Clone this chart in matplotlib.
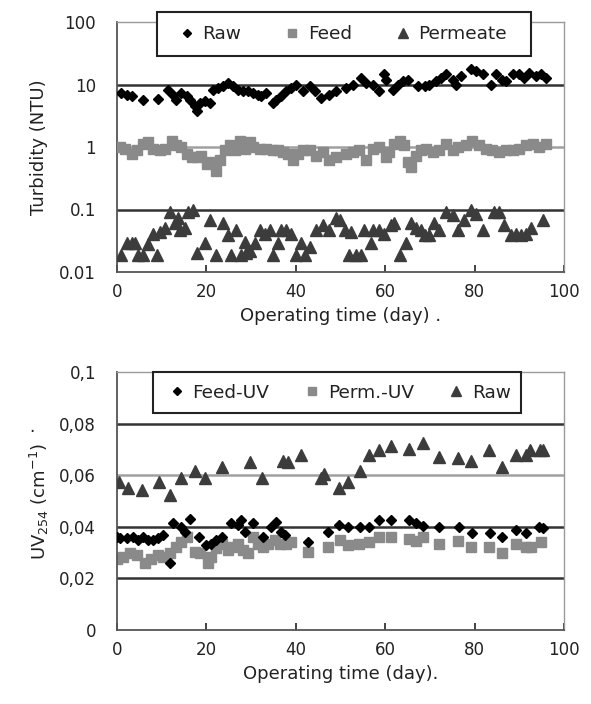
import matplotlib
matplotlib.use("Agg")
import matplotlib.pyplot as plt
from matplotlib.ticker import FixedLocator, FixedFormatter, NullLocator
from matplotlib.patches import Rectangle

# ---- Top panel: turbidity ----
raw_day = [1.0, 2.2, 3.3, 5.9, 9.2, 11.5, 12.6, 13.3, 14.4, 15.6, 16.3, 17.4, 17.8, 18.5, 19.6, 20.8,
           21.5, 22.6, 23.7, 24.8, 26.0, 27.1, 28.2, 29.3, 30.4, 31.5, 32.3, 33.4, 34.9, 35.6, 36.8,
           37.9, 39.0, 40.1, 41.6, 43.1, 44.2, 45.7, 47.5, 49.0, 51.3, 52.7, 54.6, 55.7, 57.2, 58.7,
           59.8, 60.2, 61.7, 62.8, 63.9, 65.0, 67.3, 68.8, 69.9, 71.4, 72.5, 73.6, 75.1, 75.8, 76.9,
           79.2, 80.3, 81.8, 83.6, 84.8, 86.2, 87.0, 88.5, 90.0, 91.1, 92.2, 93.7, 94.8, 95.9]
raw_val = [7.3, 6.9, 6.5, 5.6, 5.9, 8.3, 6.9, 5.7, 7.3, 6.5, 5.7, 4.5, 3.7, 5.1, 5.4, 5.1,
           8.3, 8.8, 9.4, 10.6, 9.4, 8.3, 7.8, 7.8, 7.3, 6.9, 6.5, 7.3, 5.1, 5.7, 6.5,
           7.8, 8.8, 10.0, 7.8, 9.4, 7.8, 6.1, 6.9, 7.8, 8.8, 10.0, 12.8, 10.6, 10.0, 7.8,
           14.5, 12.0, 8.3, 10.0, 11.3, 12.0, 9.4, 9.4, 10.0, 11.3, 12.8, 14.5, 12.0, 10.0, 13.6,
           17.5, 16.4, 14.5, 10.0, 14.5, 12.0, 11.3, 14.5, 14.5, 12.8, 15.3, 13.6, 14.5, 12.8]

feed_day = [0.7, 1.8, 3.3, 4.4, 5.9, 7.0, 8.1, 9.6, 10.7, 12.2, 13.3, 14.4, 15.6, 16.7, 17.8, 18.9,
            20.1, 21.1, 22.2, 23.0, 24.1, 25.2, 26.3, 27.5, 28.6, 29.7, 30.4, 31.9, 33.4, 34.9, 36.0,
            37.1, 38.2, 39.4, 40.5, 41.6, 43.1, 44.6, 46.1, 47.5, 49.0, 51.3, 52.7, 54.2, 55.7, 57.2,
            58.7, 60.2, 60.9, 62.0, 63.2, 64.3, 65.0, 65.8, 66.9, 68.0, 69.2, 70.7, 72.1, 73.6, 75.1,
            76.2, 78.1, 79.5, 81.0, 82.5, 84.0, 85.5, 87.0, 88.5, 90.0, 91.5, 93.0, 94.4, 95.9]
feed_val = [1.0, 0.93, 0.78, 0.88, 1.12, 1.2, 0.93, 0.88, 0.93, 1.27, 1.06, 1.0, 0.78, 0.69, 0.69, 0.73,
            0.54, 0.57, 0.42, 0.61, 0.88, 1.06, 0.88, 1.27, 0.93, 1.2, 1.0, 0.93, 0.93, 0.88, 0.88,
            0.83, 0.78, 0.61, 0.78, 0.88, 0.88, 0.73, 0.83, 0.61, 0.69, 0.78, 0.83, 0.88, 0.61, 0.93,
            1.0, 0.69, 0.83, 1.12, 1.27, 1.06, 0.57, 0.48, 0.73, 0.88, 0.93, 0.83, 0.88, 1.12, 0.88,
            1.0, 1.06, 1.27, 1.06, 0.93, 0.88, 0.83, 0.88, 0.88, 0.93, 1.06, 1.12, 1.0, 1.12]

perm_day = [1.0, 2.2, 3.3, 4.1, 4.8, 5.9, 7.0, 8.1, 8.9, 9.6,
            10.7, 11.9, 13.0, 13.7, 14.1, 15.2, 15.9, 17.0, 17.8, 19.6,
            20.8, 22.2, 23.7, 24.8, 25.6, 26.7, 27.8, 28.6, 28.9, 29.7,
            30.8, 31.9, 33.0, 34.2, 34.9, 36.0, 36.8, 37.9, 39.0, 40.1,
            41.2, 42.0, 43.1, 44.6, 46.1, 47.5, 49.0,
            49.8, 50.9, 52.0, 52.4, 53.5, 54.6, 55.3, 56.8, 57.2, 58.7,
            59.8, 61.3, 62.0, 63.2, 64.7, 65.8, 66.9, 68.0, 68.8, 69.9,
            71.0, 72.1, 73.6, 75.1, 76.2, 77.7, 79.2, 80.3, 81.8, 84.4,
            85.5, 86.6, 88.1, 89.2, 90.3, 91.5, 92.6, 95.2]
perm_val = [0.019, 0.029, 0.029, 0.029, 0.019, 0.019, 0.028, 0.041, 0.019, 0.044,
            0.05, 0.092, 0.06, 0.072, 0.047, 0.05, 0.092, 0.098, 0.02, 0.029,
            0.068, 0.019, 0.06, 0.039, 0.019, 0.047, 0.019, 0.03, 0.02, 0.022,
            0.029, 0.047, 0.041, 0.047, 0.019, 0.029, 0.047, 0.047, 0.041, 0.019,
            0.029, 0.019, 0.025, 0.047, 0.056, 0.047, 0.072,
            0.068, 0.047, 0.019, 0.044, 0.019, 0.019, 0.047, 0.029, 0.047, 0.047,
            0.041, 0.056, 0.06, 0.019, 0.029, 0.06, 0.05, 0.047, 0.039, 0.039,
            0.06, 0.047, 0.092, 0.081, 0.047, 0.068, 0.098, 0.086, 0.047, 0.092,
            0.092, 0.056, 0.039, 0.041, 0.039, 0.041, 0.05, 0.068]

# ---- Bottom panel: UV254 ----
fuv_day = [0.0, 0.7, 2.2, 3.6, 4.8, 5.9, 7.0, 8.1, 9.2, 10.3, 11.8, 12.6, 14.4, 15.2, 16.3, 18.4,
           20.0, 21.1, 22.2, 23.4, 25.6, 27.1, 27.8, 28.6, 30.4, 32.7, 34.5, 35.6, 36.8, 37.5, 42.7,
           47.2, 49.6, 51.6, 54.4, 56.3, 58.6, 61.3, 65.4, 66.9, 68.4, 72.1, 76.4, 79.4, 83.4, 86.2,
           89.3, 91.5, 94.3, 95.3]
fuv_val = [0.0361, 0.0355, 0.0355, 0.0361, 0.0348, 0.0361, 0.0348, 0.0348, 0.0355, 0.0368, 0.0258,
           0.0413, 0.0400, 0.0381, 0.0432, 0.0361, 0.0329, 0.0335, 0.0348, 0.0361, 0.0413, 0.0406,
           0.0426, 0.0381, 0.0413, 0.0361, 0.0400, 0.0419, 0.0381, 0.0368, 0.0342, 0.0381, 0.0406,
           0.0400, 0.0400, 0.0400, 0.0426, 0.0426, 0.0426, 0.0413, 0.0403, 0.0400, 0.0400, 0.0377,
           0.0377, 0.0359, 0.0387, 0.0377, 0.0400, 0.0397]

puv_day = [0.0, 1.4, 2.9, 4.4, 6.3, 7.7, 9.2, 10.3, 11.8, 13.3, 14.4, 15.6, 17.4, 18.5, 20.4, 21.1,
           22.2, 23.4, 24.9, 26.0, 27.1, 28.2, 29.3, 30.4, 31.5, 32.7, 33.8, 35.3, 36.4, 37.9, 39.0,
           42.7, 47.2, 49.8, 51.6, 54.2, 56.3, 58.6, 61.3, 65.4, 66.9, 68.4, 72.1, 76.2, 79.2, 83.3,
           86.2, 89.3, 91.5, 92.6, 94.8]
puv_val = [0.0277, 0.0284, 0.0297, 0.0290, 0.0258, 0.0277, 0.0290, 0.0284, 0.0297, 0.0323, 0.0342,
           0.0361, 0.0303, 0.0297, 0.0258, 0.0284, 0.0316, 0.0335, 0.0310, 0.0323, 0.0335, 0.0310,
           0.0297, 0.0361, 0.0335, 0.0323, 0.0335, 0.0348, 0.0335, 0.0335, 0.0342, 0.0303, 0.0323,
           0.0348, 0.0329, 0.0333, 0.0342, 0.0359, 0.0359, 0.0351, 0.0346, 0.0359, 0.0333, 0.0346,
           0.0320, 0.0320, 0.0297, 0.0335, 0.0323, 0.0323, 0.0342]

ruv_day = [0.5, 2.5, 5.7, 9.4, 11.8, 14.4, 17.4, 19.6, 23.5, 29.7, 32.4, 37.1, 38.2, 41.2, 45.7,
           46.4, 49.6, 51.6, 54.4, 56.3, 58.6, 61.3, 65.4, 68.4, 72.1, 76.2, 79.2, 83.3, 86.2, 89.3,
           91.5, 92.3, 94.6, 95.3]
ruv_val = [0.0574, 0.0552, 0.0542, 0.0574, 0.0523, 0.0591, 0.0617, 0.0591, 0.0632, 0.0652, 0.0591,
           0.0655, 0.0652, 0.0677, 0.0591, 0.0604, 0.0552, 0.0574, 0.0617, 0.0677, 0.0697, 0.0712,
           0.0703, 0.0725, 0.0671, 0.0665, 0.0655, 0.0697, 0.0632, 0.0677, 0.0677, 0.0697, 0.0697,
           0.0697]

x_ticks = [0, 20, 40, 60, 80, 100]
top_yticks = [0.01, 0.1, 1, 10, 100]
top_ylabels = ["0.01", "0.1", "1", "10", "100"]
bot_yticks = [0, 0.02, 0.04, 0.06, 0.08, 0.1]
bot_ylabels = ["0", "0,02", "0,04", "0,06", "0,08", "0,1"]

plt.rcParams['font.family'] = ['DejaVu Sans']
FS = 12
LFS = 13.3
W, H = 591, 704

fig = plt.figure(figsize=(W / 100, H / 100), dpi=100)
ax1 = fig.add_axes([117/W, 1-272/H, 447/W, 250/H])
ax2 = fig.add_axes([117/W, 1-630/H, 447/W, 258/H])

dia = dict(marker='D', color='black', markersize=5.5, linestyle='none')
sq = dict(marker='s', color='#8a8a8a', markersize=7, linestyle='none')
tri = dict(marker='^', color='#3c3c3c', markersize=8.5, linestyle='none')

def style(ax):
    for s in ['top', 'right']:
        ax.spines[s].set_color('#9a9a9a')
        ax.spines[s].set_linewidth(1.0)
    for s in ['left', 'bottom']:
        ax.spines[s].set_color('#555555')
        ax.spines[s].set_linewidth(1.3)
    ax.set_xlim(0, 100)
    ax.xaxis.set_major_locator(FixedLocator(x_ticks))
    ax.tick_params(axis='x', direction='in', length=5, width=1.2, labelsize=FS, pad=8, colors='#222222')
    ax.tick_params(axis='y', length=0, labelsize=FS, pad=15, colors='#222222')

def framed_legend(handles, labels, x0, x1, y0, y1, first_handle_px, colspace):
    fig.patches.append(Rectangle((x0/W, 1-y1/H), (x1-x0)/W, (y1-y0)/H, transform=fig.transFigure,
                                 facecolor='white', edgecolor='#222222', linewidth=1.5, zorder=4))
    leg = fig.legend(handles, labels, loc='center left',
                     bbox_to_anchor=(first_handle_px/W, 1-(y0+y1)/2/H), ncol=3, frameon=False,
                     fontsize=LFS, handlelength=0.8, handletextpad=0.45, columnspacing=colspace,
                     markerscale=0.8, borderpad=0.0, borderaxespad=0.0)
    leg.set_zorder(5)
    for t in leg.get_texts():
        t.set_color('#222222')
    return leg

# Top panel
ax1.set_yscale('log')
ax1.set_ylim(0.01, 100)
for y, c in [(10, '#333333'), (1, '#a0a0a0'), (0.1, '#333333')]:
    ax1.axhline(y, color=c, linewidth=1.8, zorder=1)
h1, = ax1.plot(raw_day, raw_val, zorder=3, **dia)
h2, = ax1.plot(feed_day, feed_val, zorder=3, **sq)
h3, = ax1.plot(perm_day, perm_val, zorder=3, **tri)
ax1.yaxis.set_major_locator(FixedLocator(top_yticks))
ax1.yaxis.set_major_formatter(FixedFormatter(top_ylabels))
ax1.yaxis.set_minor_locator(NullLocator())
style(ax1)
ax1.set_ylabel('Turbidity (NTU)', fontsize=13, labelpad=8, color='#222222')
ax1.set_xlabel('Operating time (day) .', fontsize=13, labelpad=4, color='#222222')
framed_legend([h1, h2, h3], ['Raw', 'Feed', 'Permeate'], 157, 531, 12, 56, 179.5, 2.35)

# Bottom panel
ax2.set_ylim(0, 0.1)
for y, c in [(0.08, '#333333'), (0.06, '#a0a0a0'), (0.04, '#333333'), (0.02, '#333333')]:
    ax2.axhline(y, color=c, linewidth=1.8, zorder=1)
g2, = ax2.plot(puv_day, puv_val, zorder=2, **sq)
g1, = ax2.plot(fuv_day, fuv_val, zorder=3, **dia)
g3, = ax2.plot(ruv_day, ruv_val, zorder=3, **tri)
ax2.yaxis.set_major_locator(FixedLocator(bot_yticks))
ax2.yaxis.set_major_formatter(FixedFormatter(bot_ylabels))
style(ax2)
ax2.set_ylabel(r'UV$_{254}$ (cm$^{-1}$)', fontsize=13, labelpad=6, color='#222222')
ax2.set_xlabel('Operating time (day).', fontsize=13, labelpad=4, color='#222222')
framed_legend([g1, g2, g3], ['Feed-UV', 'Perm.-UV', 'Raw'], 153, 521, 372, 413, 169.5, 1.9)

fig.text(32/W, 1-427/H, '.', fontsize=FS, color='#222222', ha='center', va='center')

fig.savefig('out.png', dpi=100)
